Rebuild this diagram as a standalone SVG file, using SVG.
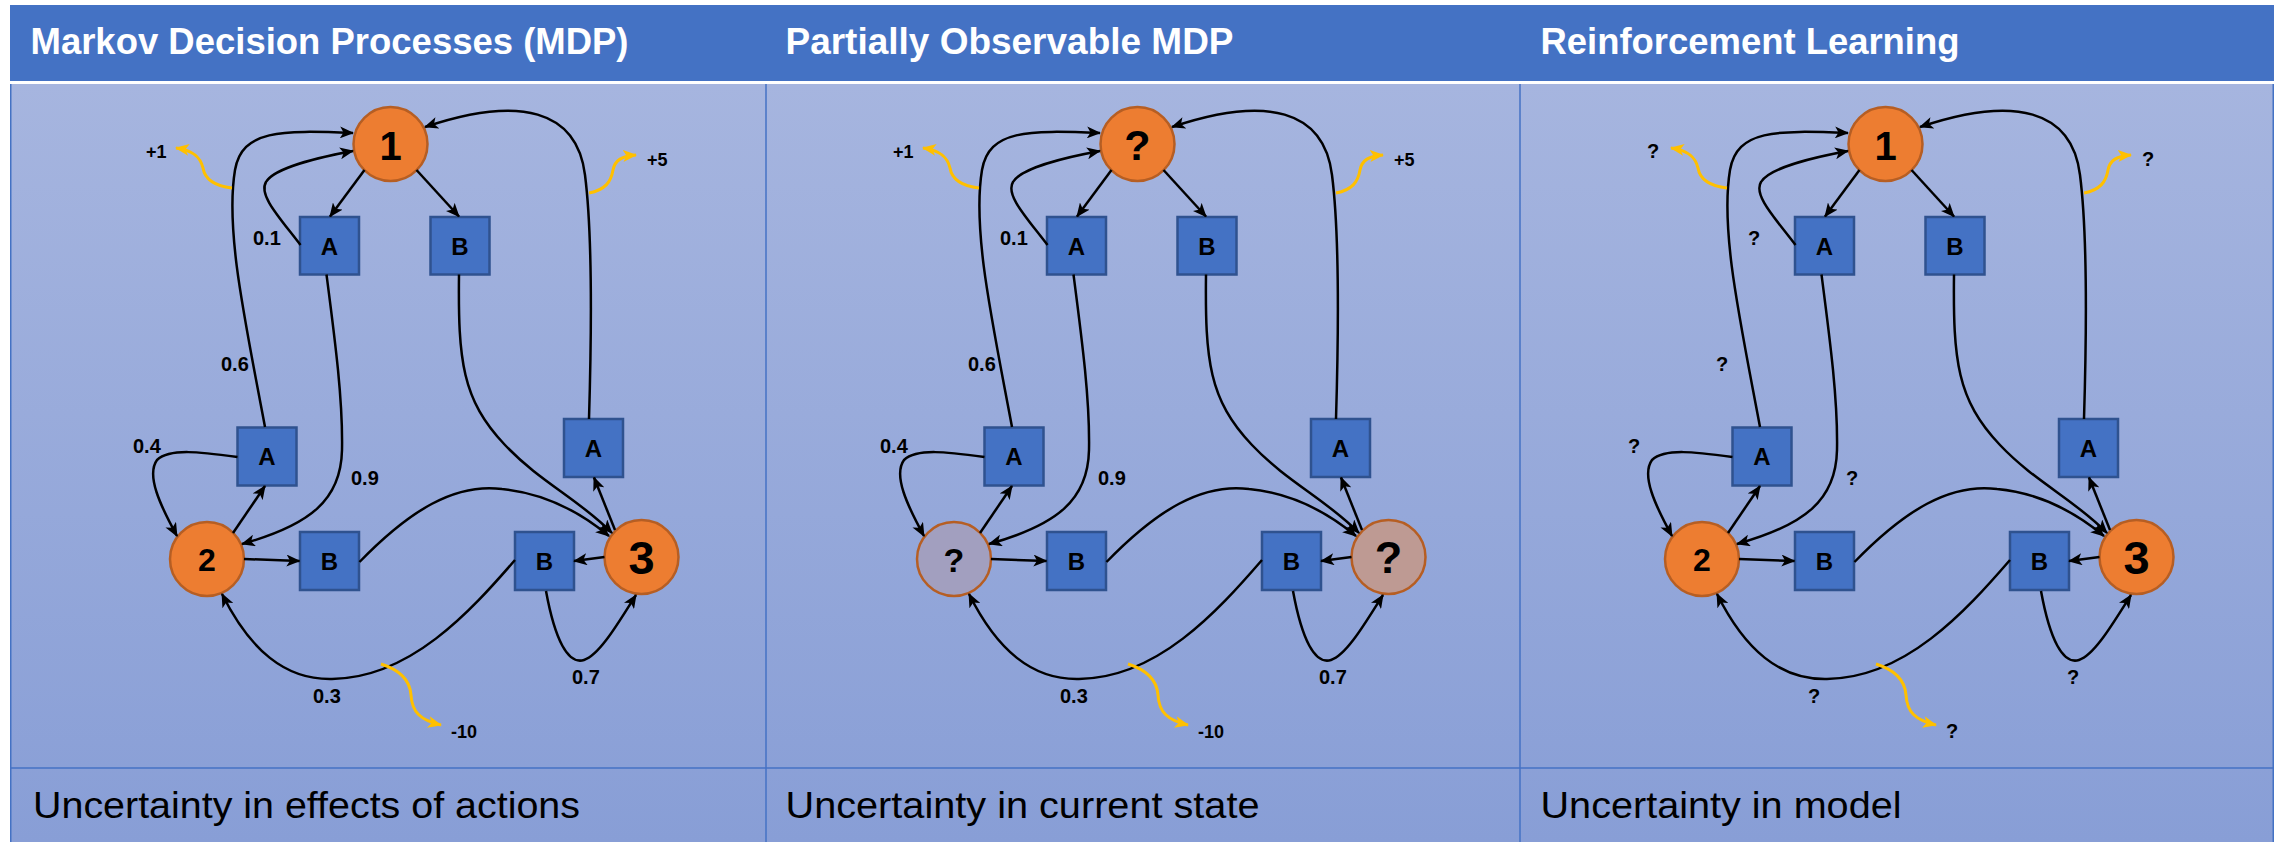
<svg xmlns="http://www.w3.org/2000/svg" width="2290" height="842" viewBox="0 0 2290 842">
  <defs>
    <linearGradient id="bodyFill" x1="0" y1="0" x2="0" y2="1">
      <stop offset="0" stop-color="#A6B5DF"/>
      <stop offset="1" stop-color="#889ED6"/>
    </linearGradient>
    <marker id="ah" markerUnits="userSpaceOnUse" viewBox="0 0 14 12" refX="13" refY="6" markerWidth="14" markerHeight="12" orient="auto">
      <path d="M0,0 L14,6 L0,12 L3.5,6 Z" fill="#000"/>
    </marker>
    <marker id="ahy" markerUnits="userSpaceOnUse" viewBox="0 0 14 12" refX="13" refY="6" markerWidth="14" markerHeight="12" orient="auto">
      <path d="M0,0 L14,6 L0,12 L3.5,6 Z" fill="#FFC000"/>
    </marker>
    <style>
      .hdr { fill: #4472C4; }
      .grid { stroke: #4472C4; stroke-width: 1.5; fill: none; }
      .title { font-family: "Liberation Sans", Arial, sans-serif; font-weight: 700; font-size: 36.5px; fill: #FFFFFF; }
      .cap { font-family: "Liberation Sans", Arial, sans-serif; font-size: 37px; fill: #000000; }
      .state { fill: #ED7D31; stroke: #B65E23; stroke-width: 2.5; }
      .fog2 { fill: #A29FBF; }
      .fog3 { fill: #BE9A93; }
      .act { fill: #4472C4; stroke: #2F528F; stroke-width: 2.5; }
      .sl { font-family: "Liberation Sans", Arial, sans-serif; font-weight: 700; fill: #000; text-anchor: middle; }
      .al { font-family: "Liberation Sans", Arial, sans-serif; font-weight: 700; font-size: 24px; fill: #000; text-anchor: middle; }
      .edge { fill: none; stroke: #000; stroke-width: 2.5; marker-end: url(#ah); }
      .rw { fill: none; stroke: #FFC000; stroke-width: 3; marker-end: url(#ahy); }
      .pl { font-family: "Liberation Sans", Arial, sans-serif; font-weight: 700; font-size: 20px; fill: #000; }
      .rl { font-family: "Liberation Sans", Arial, sans-serif; font-weight: 700; font-size: 18px; fill: #000; }
    </style>
  </defs>

  <!-- page background -->
  <rect x="0" y="0" width="2290" height="842" fill="#FFFFFF"/>

  <!-- table frame: header band, body, dividers -->
  <g id="table">
    <rect class="hdr" x="10" y="5" width="2264" height="76"/>
    <rect x="10" y="84" width="2264" height="758" fill="url(#bodyFill)"/>
    <line class="grid" x1="10.75" y1="84" x2="10.75" y2="842"/>
    <line class="grid" x1="766" y1="84" x2="766" y2="842"/>
    <line class="grid" x1="1520" y1="84" x2="1520" y2="842"/>
    <line class="grid" x1="2273.25" y1="84" x2="2273.25" y2="842"/>
    <line class="grid" x1="10" y1="768" x2="2274" y2="768"/>
  </g>

  <!-- column titles -->
  <g id="titles">
    <text class="title" x="30.5" y="54" textLength="598" lengthAdjust="spacingAndGlyphs">Markov Decision Processes (MDP)</text>
    <text class="title" x="785.5" y="54" textLength="448" lengthAdjust="spacingAndGlyphs">Partially Observable MDP</text>
    <text class="title" x="1540.5" y="54" textLength="419" lengthAdjust="spacingAndGlyphs">Reinforcement Learning</text>
  </g>

  <!-- column captions -->
  <g id="captions">
    <text class="cap" x="33" y="818" textLength="547" lengthAdjust="spacingAndGlyphs">Uncertainty in effects of actions</text>
    <text class="cap" x="785.5" y="818" textLength="474" lengthAdjust="spacingAndGlyphs">Uncertainty in current state</text>
    <text class="cap" x="1540.5" y="818" textLength="361" lengthAdjust="spacingAndGlyphs">Uncertainty in model</text>
  </g>

  <!-- ===== MDP ===== -->
  <g id="mdp">
    <g id="mdp-s1"><circle class="state" cx="390.5" cy="144" r="37"/><text class="sl" x="390.5" y="160" font-size="40">1</text></g>
    <g id="mdp-s2"><circle class="state" cx="207" cy="559" r="37"/><text class="sl" x="207" y="570.5" font-size="32">2</text></g>
    <g id="mdp-s3"><circle class="state" cx="641.5" cy="557" r="37"/><text class="sl" x="641.5" y="573.5" font-size="47">3</text></g>
    <g id="mdp-a1"><rect class="act" x="300" y="217" width="59" height="57.5"/><text class="al" x="329.5" y="254.5">A</text></g>
    <g id="mdp-b1"><rect class="act" x="430.5" y="217" width="59" height="57.5"/><text class="al" x="460" y="254.5">B</text></g>
    <g id="mdp-a2"><rect class="act" x="237.5" y="427.5" width="59" height="58"/><text class="al" x="267" y="465">A</text></g>
    <g id="mdp-b2"><rect class="act" x="300" y="532" width="59" height="58"/><text class="al" x="329.5" y="569.5">B</text></g>
    <g id="mdp-a3"><rect class="act" x="564" y="419" width="59" height="58"/><text class="al" x="593.5" y="456.5">A</text></g>
    <g id="mdp-b3"><rect class="act" x="515" y="532" width="59" height="58"/><text class="al" x="544.5" y="569.5">B</text></g>

    <g id="mdp-connectors">
      <path class="edge" d="M364.5,170 L330,216.5"/>
      <path class="edge" d="M416.5,170 L459,216.5"/>
      <path class="edge" d="M300.5,245 C280,218 258,195 266,182 C274,168 320,157 353,151"/>
      <path class="edge" d="M265,427 C245,320 225,230 235,170 C242,130 280,130 353,133"/>
      <path class="edge" d="M589,419 C592,320 592,230 585,175 C577,110 520,95 425,127"/>
      <path class="edge" d="M326.5,274.5 C335,340 343,400 342,450 C341,500 310,525 242,544"/>
      <path class="edge" d="M459,274.5 C458,360 462,400 505,445 C540,482 580,500 612,533"/>
      <path class="edge" d="M359.5,562 C410,510 455,483 502,489 C545,493 580,512 609,536"/>
      <path class="edge" d="M515,560 C470,612 410,678 332,679 C285,680 250,650 222,594"/>
      <path class="edge" d="M546,591 C555,640 568,665 584,660 C600,655 620,620 636,595"/>
      <path class="edge" d="M237.5,457 C200,452 170,448 157,460 C146,475 160,505 177,536"/>
      <path class="edge" d="M233,533 L265,486"/>
      <path class="edge" d="M244,559 L299.5,561"/>
      <path class="edge" d="M615,530 L594,477.5"/>
      <path class="edge" d="M604.5,557 L574,561"/>
      <path class="rw" d="M232,188 C215,186 205,180 203,168 C200,155 190,150 176,148"/>
      <path class="rw" d="M589,193 C605,190 611,182 613,170 C615,160 622,156 636,155"/>
      <path class="rw" d="M381,664 C400,670 410,680 411,695 C412,712 420,720 441,725"/>
    </g>

    <g id="mdp-labels">
      <text class="pl" x="253" y="245">0.1</text>
      <text class="pl" x="221" y="371">0.6</text>
      <text class="pl" x="133" y="453">0.4</text>
      <text class="pl" x="351" y="485">0.9</text>
      <text class="pl" x="313" y="703">0.3</text>
      <text class="pl" x="572" y="684">0.7</text>
      <text class="rl" x="146" y="158">+1</text>
      <text class="rl" x="647" y="166">+5</text>
      <text class="rl" x="451" y="738">-10</text>
    </g>
  </g>

  <!-- ===== POMDP ===== -->
  <g id="pomdp" transform="translate(747,0)">
    <g id="pomdp-s1"><circle class="state" cx="390.5" cy="144" r="37"/><text class="sl" x="390.5" y="160" font-size="43">?</text></g>
    <g id="pomdp-s2"><circle class="state fog2" cx="207" cy="559" r="37"/><text class="sl" x="207" y="571.5" font-size="34">?</text></g>
    <g id="pomdp-s3"><circle class="state fog3" cx="641.5" cy="557" r="37"/><text class="sl" x="641.5" y="573" font-size="45">?</text></g>
    <g id="pomdp-a1"><rect class="act" x="300" y="217" width="59" height="57.5"/><text class="al" x="329.5" y="254.5">A</text></g>
    <g id="pomdp-b1"><rect class="act" x="430.5" y="217" width="59" height="57.5"/><text class="al" x="460" y="254.5">B</text></g>
    <g id="pomdp-a2"><rect class="act" x="237.5" y="427.5" width="59" height="58"/><text class="al" x="267" y="465">A</text></g>
    <g id="pomdp-b2"><rect class="act" x="300" y="532" width="59" height="58"/><text class="al" x="329.5" y="569.5">B</text></g>
    <g id="pomdp-a3"><rect class="act" x="564" y="419" width="59" height="58"/><text class="al" x="593.5" y="456.5">A</text></g>
    <g id="pomdp-b3"><rect class="act" x="515" y="532" width="59" height="58"/><text class="al" x="544.5" y="569.5">B</text></g>

    <g id="pomdp-connectors">
      <path class="edge" d="M364.5,170 L330,216.5"/>
      <path class="edge" d="M416.5,170 L459,216.5"/>
      <path class="edge" d="M300.5,245 C280,218 258,195 266,182 C274,168 320,157 353,151"/>
      <path class="edge" d="M265,427 C245,320 225,230 235,170 C242,130 280,130 353,133"/>
      <path class="edge" d="M589,419 C592,320 592,230 585,175 C577,110 520,95 425,127"/>
      <path class="edge" d="M326.5,274.5 C335,340 343,400 342,450 C341,500 310,525 242,544"/>
      <path class="edge" d="M459,274.5 C458,360 462,400 505,445 C540,482 580,500 612,533"/>
      <path class="edge" d="M359.5,562 C410,510 455,483 502,489 C545,493 580,512 609,536"/>
      <path class="edge" d="M515,560 C470,612 410,678 332,679 C285,680 250,650 222,594"/>
      <path class="edge" d="M546,591 C555,640 568,665 584,660 C600,655 620,620 636,595"/>
      <path class="edge" d="M237.5,457 C200,452 170,448 157,460 C146,475 160,505 177,536"/>
      <path class="edge" d="M233,533 L265,486"/>
      <path class="edge" d="M244,559 L299.5,561"/>
      <path class="edge" d="M615,530 L594,477.5"/>
      <path class="edge" d="M604.5,557 L574,561"/>
      <path class="rw" d="M232,188 C215,186 205,180 203,168 C200,155 190,150 176,148"/>
      <path class="rw" d="M589,193 C605,190 611,182 613,170 C615,160 622,156 636,155"/>
      <path class="rw" d="M381,664 C400,670 410,680 411,695 C412,712 420,720 441,725"/>
    </g>

    <g id="pomdp-labels">
      <text class="pl" x="253" y="245">0.1</text>
      <text class="pl" x="221" y="371">0.6</text>
      <text class="pl" x="133" y="453">0.4</text>
      <text class="pl" x="351" y="485">0.9</text>
      <text class="pl" x="313" y="703">0.3</text>
      <text class="pl" x="572" y="684">0.7</text>
      <text class="rl" x="146" y="158">+1</text>
      <text class="rl" x="647" y="166">+5</text>
      <text class="rl" x="451" y="738">-10</text>
    </g>
  </g>

  <!-- ===== RL ===== -->
  <g id="rl" transform="translate(1495,0)">
    <g id="rl-s1"><circle class="state" cx="390.5" cy="144" r="37"/><text class="sl" x="390.5" y="160" font-size="40">1</text></g>
    <g id="rl-s2"><circle class="state" cx="207" cy="559" r="37"/><text class="sl" x="207" y="570.5" font-size="32">2</text></g>
    <g id="rl-s3"><circle class="state" cx="641.5" cy="557" r="37"/><text class="sl" x="641.5" y="573.5" font-size="47">3</text></g>
    <g id="rl-a1"><rect class="act" x="300" y="217" width="59" height="57.5"/><text class="al" x="329.5" y="254.5">A</text></g>
    <g id="rl-b1"><rect class="act" x="430.5" y="217" width="59" height="57.5"/><text class="al" x="460" y="254.5">B</text></g>
    <g id="rl-a2"><rect class="act" x="237.5" y="427.5" width="59" height="58"/><text class="al" x="267" y="465">A</text></g>
    <g id="rl-b2"><rect class="act" x="300" y="532" width="59" height="58"/><text class="al" x="329.5" y="569.5">B</text></g>
    <g id="rl-a3"><rect class="act" x="564" y="419" width="59" height="58"/><text class="al" x="593.5" y="456.5">A</text></g>
    <g id="rl-b3"><rect class="act" x="515" y="532" width="59" height="58"/><text class="al" x="544.5" y="569.5">B</text></g>

    <g id="rl-connectors">
      <path class="edge" d="M364.5,170 L330,216.5"/>
      <path class="edge" d="M416.5,170 L459,216.5"/>
      <path class="edge" d="M300.5,245 C280,218 258,195 266,182 C274,168 320,157 353,151"/>
      <path class="edge" d="M265,427 C245,320 225,230 235,170 C242,130 280,130 353,133"/>
      <path class="edge" d="M589,419 C592,320 592,230 585,175 C577,110 520,95 425,127"/>
      <path class="edge" d="M326.5,274.5 C335,340 343,400 342,450 C341,500 310,525 242,544"/>
      <path class="edge" d="M459,274.5 C458,360 462,400 505,445 C540,482 580,500 612,533"/>
      <path class="edge" d="M359.5,562 C410,510 455,483 502,489 C545,493 580,512 609,536"/>
      <path class="edge" d="M515,560 C470,612 410,678 332,679 C285,680 250,650 222,594"/>
      <path class="edge" d="M546,591 C555,640 568,665 584,660 C600,655 620,620 636,595"/>
      <path class="edge" d="M237.5,457 C200,452 170,448 157,460 C146,475 160,505 177,536"/>
      <path class="edge" d="M233,533 L265,486"/>
      <path class="edge" d="M244,559 L299.5,561"/>
      <path class="edge" d="M615,530 L594,477.5"/>
      <path class="edge" d="M604.5,557 L574,561"/>
      <path class="rw" d="M232,188 C215,186 205,180 203,168 C200,155 190,150 176,148"/>
      <path class="rw" d="M589,193 C605,190 611,182 613,170 C615,160 622,156 636,155"/>
      <path class="rw" d="M381,664 C400,670 410,680 411,695 C412,712 420,720 441,725"/>
    </g>

    <g id="rl-labels">
      <text class="pl" x="253" y="245">?</text>
      <text class="pl" x="221" y="371">?</text>
      <text class="pl" x="133" y="453">?</text>
      <text class="pl" x="351" y="485">?</text>
      <text class="pl" x="313" y="703">?</text>
      <text class="pl" x="572" y="684">?</text>
      <text class="pl" x="152" y="158">?</text>
      <text class="pl" x="647" y="166">?</text>
      <text class="pl" x="451" y="738">?</text>
    </g>
  </g>
</svg>
